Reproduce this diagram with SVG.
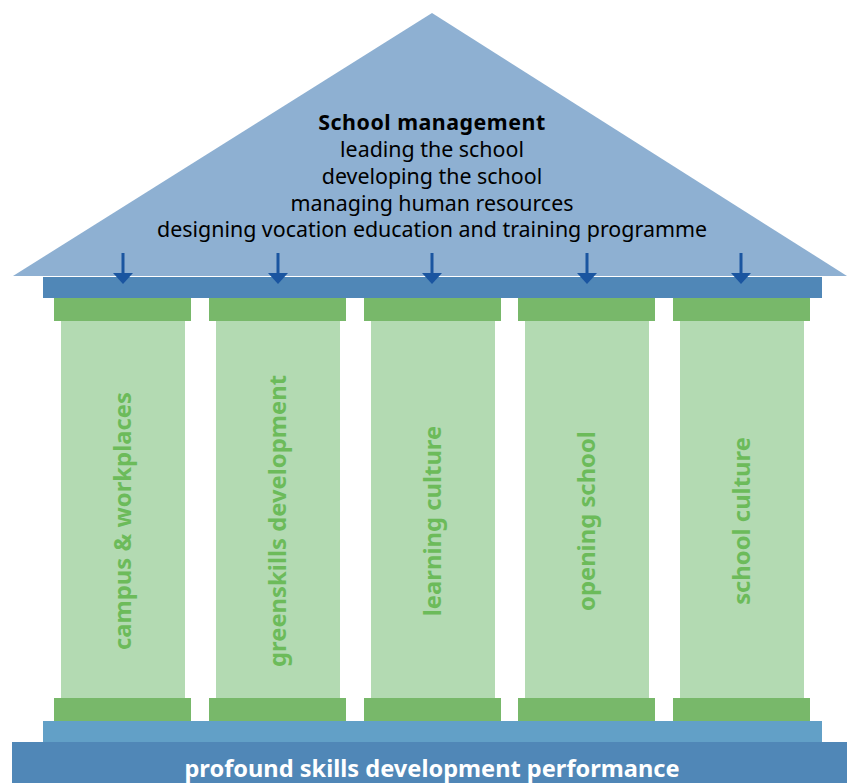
<svg xmlns="http://www.w3.org/2000/svg" width="847" height="783" viewBox="0 0 847 783">
<style>
.cap{fill:#78b86a}
.shaft{fill:#b3dab2}
.clabel{font-family:"Noto Sans","Open Sans",sans-serif;font-weight:bold;font-size:23.8px;fill:#6cbb5a;text-anchor:middle}
.roof{font-family:"Noto Sans","Open Sans",sans-serif;font-size:21.4px;fill:#000;text-anchor:middle}
.arrow{stroke:#1a55a0;stroke-width:3;fill:none;marker-end:url(#ah)}
</style>
<defs>
<marker id="ah" markerUnits="userSpaceOnUse" markerWidth="11" markerHeight="20" refX="0" refY="10" orient="auto" viewBox="0 0 11 20">
<path d="M0,0 L11,10 L0,20 Z" fill="#1a55a0"/>
</marker>
</defs>
<rect width="847" height="783" fill="#fff"/>
<g id="roof">
<polygon points="13,276 432,13 847,276" fill="#8eb0d2"/>
<text class="roof" x="432" y="130" font-weight="bold" font-size="26.5" letter-spacing="0.5">School management</text>
<text class="roof" x="432" y="157">leading the school</text>
<text class="roof" x="432" y="184">developing the school</text>
<text class="roof" x="432" y="210.5">managing human resources</text>
<text class="roof" x="432" y="237">designing vocation education and training programme</text>
</g>
<g id="beam"><rect x="43" y="277" width="779" height="21" fill="#5087b7"/></g>
<g id="col-campus">
<rect class="cap" x="54" y="298" width="137" height="23"/>
<rect class="shaft" x="61" y="321" width="124" height="377"/>
<rect class="cap" x="54" y="698" width="137" height="23"/>
<text class="clabel" transform="translate(131,521) rotate(-90)">campus &amp; workplaces</text>
</g>
<g id="col-greenskills">
<rect class="cap" x="209" y="298" width="137" height="23"/>
<rect class="shaft" x="216" y="321" width="124" height="377"/>
<rect class="cap" x="209" y="698" width="137" height="23"/>
<text class="clabel" transform="translate(286,521) rotate(-90)">greenskills development</text>
</g>
<g id="col-learning">
<rect class="cap" x="364" y="298" width="137" height="23"/>
<rect class="shaft" x="371" y="321" width="124" height="377"/>
<rect class="cap" x="364" y="698" width="137" height="23"/>
<text class="clabel" transform="translate(441,521) rotate(-90)">learning culture</text>
</g>
<g id="col-opening">
<rect class="cap" x="518" y="298" width="137" height="23"/>
<rect class="shaft" x="525" y="321" width="124" height="377"/>
<rect class="cap" x="518" y="698" width="137" height="23"/>
<text class="clabel" transform="translate(595,521) rotate(-90)">opening school</text>
</g>
<g id="col-culture">
<rect class="cap" x="673" y="298" width="137" height="23"/>
<rect class="shaft" x="680" y="321" width="124" height="377"/>
<rect class="cap" x="673" y="698" width="137" height="23"/>
<text class="clabel" transform="translate(750,521) rotate(-90)">school culture</text>
</g>
<g id="plinth"><rect x="43" y="721" width="779" height="21" fill="#62a0c7"/></g>
<g id="base">
<rect x="12" y="742" width="835" height="41" fill="#5087b7"/>
<text x="432" y="777" font-family="Noto Sans, Open Sans, sans-serif" font-weight="bold" font-size="23.6" fill="#fff" text-anchor="middle">profound skills development performance</text>
</g>
<g id="connectors">
<line class="arrow" x1="123" y1="253" x2="123" y2="273"/>
<line class="arrow" x1="278" y1="253" x2="278" y2="273"/>
<line class="arrow" x1="432" y1="253" x2="432" y2="273"/>
<line class="arrow" x1="587" y1="253" x2="587" y2="273"/>
<line class="arrow" x1="741" y1="253" x2="741" y2="273"/>
</g>
</svg>
